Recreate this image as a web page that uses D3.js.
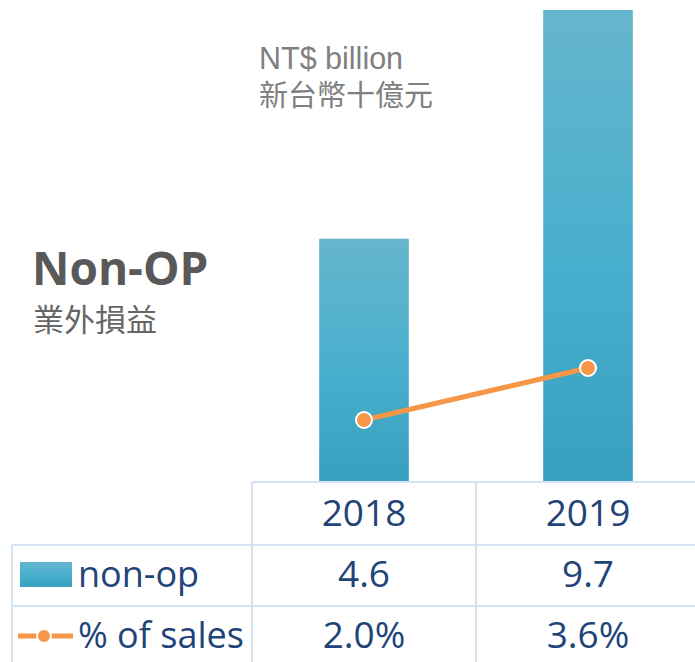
<!DOCTYPE html>
<html>
<head>
<meta charset="utf-8">
<script src="https://cdn.jsdelivr.net/npm/d3@7"></script>
<style>
  body { margin: 0; background: #fff; }
  svg { display: block; }
</style>
</head>
<body>
<script>
const years = ["2018", "2019"]
const nonOp = [4.6, 9.7]
const pctSales = [2.0, 3.6]
const nonOpLabels = ["4.6", "9.7"]
const pctLabels = ["2.0%", "3.6%"]

const width = 695, height = 662

const svg = d3.select("body").append("svg")
    .attr("width", width)
    .attr("height", height)

const defs = svg.append("defs")
const grad = defs.append("linearGradient")
    .attr("id", "barGrad")
    .attr("x1", 0).attr("y1", 0).attr("x2", 0).attr("y2", 1)
grad.append("stop").attr("offset", "0%").attr("stop-color", "#66b5cd")
grad.append("stop").attr("offset", "55%").attr("stop-color", "#47afcd")
grad.append("stop").attr("offset", "100%").attr("stop-color", "#37a0be")

// scales
const x = d3.scaleBand()
    .domain(years)
    .range([252, 700])
    .paddingInner(0.6)
    .paddingOuter(0.3)

const y = d3.scaleLinear().domain([-0.8, 9.7]).range([481, 10])
const y2 = d3.scaleLinear().domain([0, 10]).range([485, 160])

// bars
svg.append("g").selectAll("rect")
    .data(years)
    .join("rect")
      .attr("x", d => x(d))
      .attr("y", (d, i) => y(nonOp[i]))
      .attr("width", x.bandwidth())
      .attr("height", (d, i) => y(-0.8) - y(nonOp[i]))
      .attr("fill", "url(#barGrad)")

// line
const line = d3.line()
    .x((d, i) => x(years[i]) + x.bandwidth() / 2)
    .y(d => y2(d))

svg.append("path")
    .datum(pctSales)
    .attr("d", line)
    .attr("fill", "none")
    .attr("stroke", "#f79646")
    .attr("stroke-width", 5)

svg.append("g").selectAll("circle")
    .data(pctSales)
    .join("circle")
      .attr("cx", (d, i) => x(years[i]) + x.bandwidth() / 2)
      .attr("cy", d => y2(d))
      .attr("r", 8)
      .attr("fill", "#f79646")
      .attr("stroke", "#ffffff")
      .attr("stroke-width", 2)

// titles
svg.append("text")
    .attr("x", 32).attr("y", 285)
    .attr("font-family", "Open Sans")
    .attr("font-weight", "bold")
    .attr("font-size", 46)
    .attr("fill", "#595959")
    .text("Non-OP")

svg.append("text")
    .attr("x", 33).attr("y", 331)
    .attr("font-family", "Noto Sans CJK TC")
    .attr("font-size", 31)
    .attr("fill", "#666666")
    .text("業外損益")

svg.append("text")
    .attr("x", 259).attr("y", 69)
    .attr("font-family", "Liberation Sans")
    .attr("font-size", 30.5)
    .attr("fill", "#808080")
    .text("NT$ billion")

svg.append("text")
    .attr("x", 259).attr("y", 106)
    .attr("font-family", "Noto Sans CJK TC")
    .attr("font-size", 29)
    .attr("fill", "#808080")
    .text("新台幣十億元")

// table grid
const gridColor = "#d5e2f1"
const grid = svg.append("g")
    .attr("stroke", gridColor)
    .attr("stroke-width", 2)
grid.append("line").attr("x1", 252).attr("x2", 695).attr("y1", 482).attr("y2", 482)
grid.append("line").attr("x1", 12).attr("x2", 695).attr("y1", 545).attr("y2", 545)
grid.append("line").attr("x1", 12).attr("x2", 695).attr("y1", 606).attr("y2", 606)
grid.append("line").attr("x1", 12).attr("x2", 12).attr("y1", 545).attr("y2", 662)
grid.append("line").attr("x1", 252).attr("x2", 252).attr("y1", 482).attr("y2", 662)
grid.append("line").attr("x1", 476).attr("x2", 476).attr("y1", 482).attr("y2", 662)

const textColor = "#1f4478"
const tableFont = "Open Sans"
const cx = d => x(d) + x.bandwidth() / 2

const rows = [
  { labels: years, base: 526 },
  { labels: nonOpLabels, base: 587 },
  { labels: pctLabels, base: 648 }
]

rows.forEach(r => {
  svg.append("g").selectAll("text")
      .data(r.labels)
      .join("text")
        .attr("x", (d, i) => cx(years[i]))
        .attr("y", r.base)
        .attr("text-anchor", "middle")
        .attr("font-family", tableFont)
        .attr("font-size", 37)
        .attr("fill", textColor)
        .text(d => d)
})

// legend
svg.append("rect")
    .attr("x", 20).attr("y", 562)
    .attr("width", 52).attr("height", 25)
    .attr("fill", "url(#barGrad)")

svg.append("text")
    .attr("x", 78).attr("y", 587)
    .attr("font-family", tableFont)
    .attr("font-size", 36)
    .attr("fill", textColor)
    .text("non-op")

svg.append("line")
    .attr("x1", 18).attr("x2", 73)
    .attr("y1", 636).attr("y2", 636)
    .attr("stroke", "#f79646")
    .attr("stroke-width", 5)

svg.append("circle")
    .attr("cx", 44).attr("cy", 636)
    .attr("r", 7)
    .attr("fill", "#f79646")
    .attr("stroke", "#ffffff")
    .attr("stroke-width", 2)

svg.append("text")
    .attr("x", 78).attr("y", 648)
    .attr("font-family", tableFont)
    .attr("font-size", 36)
    .attr("fill", textColor)
    .text("% of sales")
</script>
</body>
</html>
